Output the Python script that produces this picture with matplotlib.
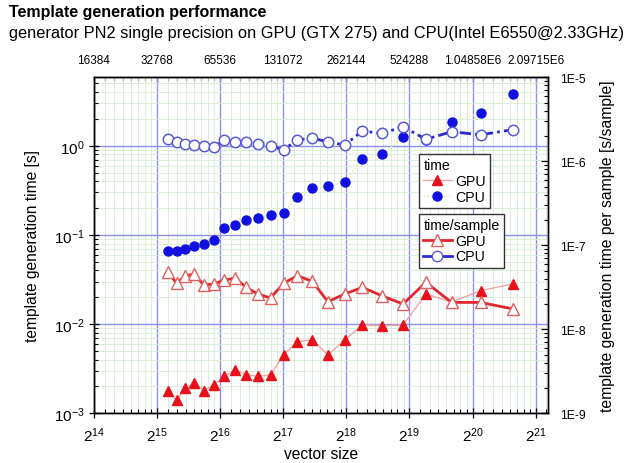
import matplotlib
matplotlib.use("Agg")
import matplotlib.pyplot as plt
from matplotlib.lines import Line2D
from matplotlib.ticker import FixedLocator, NullFormatter, FixedFormatter
import numpy as np

plt.rcParams['font.family'] = ['Liberation Sans', 'DejaVu Sans']
plt.rcParams['mathtext.fontset'] = 'custom'
plt.rcParams['mathtext.rm'] = 'Liberation Sans'
plt.rcParams['mathtext.it'] = 'Liberation Sans:italic'

# ---------------- data ----------------
vector_size = [36800, 40600, 44700, 49400, 54700, 61100, 68700, 77300, 87200,
               99100, 113900, 131500, 152900, 180300, 214100, 257300, 312600,
               386400, 488600, 627400, 832500, 1145100, 1628400]

gpu_time = [1.79e-3, 1.41e-3, 1.91e-3, 2.19e-3, 1.79e-3, 2.08e-3, 2.60e-3,
            3.08e-3, 2.71e-3, 2.60e-3, 2.69e-3, 4.50e-3, 6.35e-3, 6.68e-3,
            4.50e-3, 6.63e-3, 9.77e-3, 9.60e-3, 9.77e-3, 0.0217, 0.0177,
            0.0237, 0.0282]

cpu_time = [0.0655, 0.0665, 0.0695, 0.0751, 0.0797, 0.0869, 0.1194, 0.1291,
            0.1458, 0.1559, 0.1684, 0.1746, 0.268, 0.3356, 0.3532, 0.3917,
            0.709, 0.807, 1.242, 1.15, 1.83, 2.33, 3.80]

gpu_per_sample = [4.86e-8, 3.53e-8, 4.35e-8, 4.55e-8, 3.36e-8, 3.46e-8, 3.86e-8,
                  4.05e-8, 3.16e-8, 2.63e-8, 2.36e-8, 3.53e-8, 4.35e-8, 3.72e-8,
                  2.13e-8, 2.63e-8, 3.16e-8, 2.51e-8, 2.00e-8, 3.63e-8, 2.09e-8,
                  2.09e-8, 1.75e-8]

cpu_per_sample = [1.84e-6, 1.68e-6, 1.62e-6, 1.58e-6, 1.535e-6, 1.48e-6, 1.795e-6,
                  1.71e-6, 1.71e-6, 1.61e-6, 1.535e-6, 1.365e-6, 1.81e-6, 1.88e-6,
                  1.71e-6, 1.56e-6, 2.30e-6, 2.15e-6, 2.58e-6, 1.83e-6, 2.25e-6,
                  2.07e-6, 2.38e-6]

x_exponents = [14, 15, 16, 17, 18, 19, 20, 21]
top_labels = ['16384', '32768', '65536', '131072', '262144', '524288',
              '1.04858E6', '2.09715E6']
left_exponents = [-3, -2, -1, 0]
right_labels = ['1E-9', '1E-8', '1E-7', '1E-6', '1E-5']

title = 'Template generation performance'
subtitle = 'generator PN2 single precision on GPU (GTX 275) and CPU(Intel E6550@2.33GHz)'

# ---------------- styling ----------------
RED_DARK = '#e0262e'
RED_LIGHT = '#f5a3a3'
BLUE = '#1010e0'
BLUE_LINE = '#2a2ad0'
YELLOW = '#ecec9a'
GRID_MAJOR = '#8f8ff0'
GRID_MINOR = '#d6ead6'

fig = plt.figure(figsize=(6.32, 4.64), dpi=100)
ax = fig.add_axes([0.1487, 0.1071, 0.7184, 0.7241])
ax2 = ax.twinx()

xmin, xmax = 2.0 ** 14, 2.0 ** 21.195
ax.set_xscale('log', base=2)
ax.set_yscale('log')
ax.set_xlim(xmin, xmax)
ax.set_ylim(1e-3, 10 ** 0.767)
ax2.set_yscale('log')
ax2.set_ylim(1e-9, 1e-5)

# grids
major_x = [2.0 ** e for e in x_exponents]
minor_x = []
for e in range(14, 22):
    for j in range(1, 8):
        v = 2.0 ** e * (1 + j / 8)
        if v < xmax:
            minor_x.append(v)
ax.xaxis.set_major_locator(FixedLocator(major_x))
ax.xaxis.set_major_formatter(FixedFormatter(['$2^{%d}$' % e for e in x_exponents]))
ax.xaxis.set_minor_locator(FixedLocator(minor_x))
ax.xaxis.set_minor_formatter(NullFormatter())

major_y = [10.0 ** e for e in left_exponents]
minor_y = [m * 10.0 ** e for e in range(-3, 1) for m in range(2, 10) if m * 10.0 ** e < 10 ** 0.767]
ax.yaxis.set_major_locator(FixedLocator(major_y))
ax.yaxis.set_major_formatter(FixedFormatter(['$10^{%d}$' % e for e in left_exponents]))
ax.yaxis.set_minor_locator(FixedLocator(minor_y))
ax.yaxis.set_minor_formatter(NullFormatter())

ax.set_axisbelow(True)
ax.grid(True, which='minor', color=GRID_MINOR, lw=0.6, zorder=0)
ax.grid(True, which='major', color=GRID_MAJOR, lw=1.0, zorder=0)

r_major = [1e-9, 1e-8, 1e-7, 1e-6, 1e-5]
r_minor = [m * 10.0 ** e for e in range(-9, -5) for m in range(2, 10)]
ax2.yaxis.set_major_locator(FixedLocator(r_major))
ax2.yaxis.set_major_formatter(FixedFormatter(right_labels))
ax2.yaxis.set_minor_locator(FixedLocator(r_minor))
ax2.yaxis.set_minor_formatter(NullFormatter())

# top axis labels
secx = ax.secondary_xaxis('top')
secx.xaxis.set_major_locator(FixedLocator(major_x))
secx.xaxis.set_major_formatter(FixedFormatter(top_labels))
secx.xaxis.set_minor_locator(FixedLocator(minor_x))
secx.xaxis.set_minor_formatter(NullFormatter())
secx.tick_params(which='major', direction='in', length=5, width=0.9, labelsize=8.5, pad=8)
secx.tick_params(which='minor', direction='in', length=3, width=0.8)

ax.tick_params(which='major', direction='inout', length=7, width=0.9, labelsize=11, pad=5)
ax.tick_params(axis='y', which='major', labelsize=11, pad=3)
ax.tick_params(which='minor', direction='in', length=3, width=0.8)
ax.tick_params(axis='y', which='both', right=False)
ax2.tick_params(which='major', direction='in', length=5, width=0.9, labelsize=8.8, pad=9)
ax2.tick_params(which='minor', direction='in', length=3, width=0.8)

for a in (ax, ax2):
    for s in a.spines.values():
        s.set_linewidth(1.0)
        s.set_color('black')

# ---------------- series ----------------
ax.plot(vector_size, gpu_time, color=RED_LIGHT, lw=1.0, marker='^', ms=7,
        mfc='#e8101a', mec='#e8101a', zorder=3)
ax.plot(vector_size, cpu_time, color=YELLOW, lw=1.0, ls=':', marker='o', ms=6.5,
        mfc=BLUE, mec=BLUE, zorder=3)

ax2.plot(vector_size, gpu_per_sample, color=RED_DARK, lw=2.0, marker='^', ms=8,
         mfc='white', mec='#e06060', mew=1.0, zorder=4)
ax2.plot(vector_size, cpu_per_sample, color=BLUE_LINE, lw=2.0, ls=(0, (4, 1.5, 1, 1.5)),
         marker='o', ms=7.5, mfc='white', mec='#5a5ad8', mew=1.1, zorder=4)

# ---------------- labels ----------------
ax.set_xlabel('vector size', fontsize=11.2, labelpad=2)
ax.set_ylabel('template generation time [s]', fontsize=11.2, labelpad=10)
ax2.set_ylabel('template generation time per sample [s/sample]', fontsize=11.3, labelpad=10)

fig.text(0.014, 0.99, title, fontsize=11.5, fontweight='bold', va='top', ha='left')
fig.text(0.014, 0.945, subtitle, fontsize=11.8, va='top', ha='left')

# ---------------- legends ----------------
h_gpu_t = Line2D([], [], color=RED_LIGHT, lw=1.0, marker='^', ms=7, mfc='#e8101a', mec='#e8101a')
h_cpu_t = Line2D([], [], color=YELLOW, lw=1.0, ls=':', marker='o', ms=6.5, mfc=BLUE, mec=BLUE)
h_gpu_s = Line2D([], [], color=RED_DARK, lw=2.0, marker='^', ms=8, mfc='white', mec='#e06060')
h_cpu_s = Line2D([], [], color=BLUE_LINE, lw=2.0, marker='o', ms=7.5, mfc='white', mec='#5a5ad8')

leg_kw = dict(loc='upper left', fontsize=10.2, title_fontsize=10.2, fancybox=False,
              framealpha=1, edgecolor='#333333', handlelength=2.0, handletextpad=0.25,
              borderpad=0.3, labelspacing=0.12, borderaxespad=0, alignment='left')
leg1 = ax2.legend([h_gpu_t, h_cpu_t], ['GPU', 'CPU'], title='time',
                  bbox_to_anchor=(0.663, 0.666), bbox_transform=fig.transFigure, **leg_kw)
leg1.get_frame().set_linewidth(1.0)
ax2.add_artist(leg1)
leg2 = ax2.legend([h_gpu_s, h_cpu_s], ['GPU', 'CPU'], title='time/sample',
                  bbox_to_anchor=(0.663, 0.537), bbox_transform=fig.transFigure, **leg_kw)
leg2.get_frame().set_linewidth(1.0)
leg1.set_zorder(10)
leg2.set_zorder(10)

fig.savefig('out.png', dpi=100)
